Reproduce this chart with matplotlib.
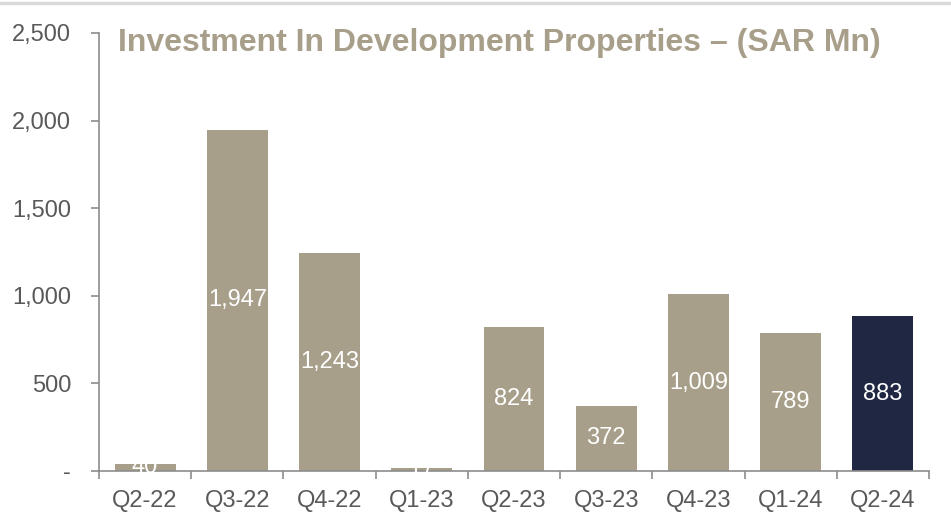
import matplotlib
matplotlib.use("Agg")
import matplotlib.pyplot as plt
from matplotlib.lines import Line2D
import numpy as np

categories = ["Q2-22", "Q3-22", "Q4-22", "Q1-23", "Q2-23", "Q3-23", "Q4-23", "Q1-24", "Q2-24"]
values = [40, 1947, 1243, 17, 824, 372, 1009, 789, 883]
labels = ["40", "1,947", "1,243", "17", "824", "372", "1,009", "789", "883"]
ytick_vals = [0, 500, 1000, 1500, 2000, 2500]
ytick_labels = ["-", "500", "1,000", "1,500", "2,000", "2,500"]
title = "Investment In Development Properties – (SAR Mn)"

plt.rcParams['font.family'] = ['Liberation Sans', 'DejaVu Sans']

tan = "#A89F8A"
navy = "#1F2742"
colors = [tan] * (len(values) - 1) + [navy]

fig = plt.figure(figsize=(9.51, 5.27), dpi=100)
ax = fig.add_axes([99/951, 56/527, 830/951, 438/527])

x = np.arange(len(categories))
bars = ax.bar(x, values, width=0.66, color=colors, zorder=2)
for xi, v, lab in zip(x, values, labels):
    ax.text(xi, v / 2, lab, ha="center", va="center", color="white", fontsize=17, zorder=3)

ax.set_xlim(-0.5, len(categories) - 0.5)
ax.set_ylim(0, 2500)
ax.set_yticks(ytick_vals)
ax.set_yticklabels(ytick_labels, fontsize=17, color="#595959")
ax.set_xticks(x)
ax.set_xticklabels(categories, fontsize=17, color="#595959")
ax.tick_params(axis="x", which="major", length=0, pad=14)
ax.set_xticks(np.arange(-0.5, len(categories)), minor=True)
ax.tick_params(axis="x", which="minor", length=6, color="#8c8c8c", width=1.2, direction="out")
ax.tick_params(axis="y", length=6, color="#8c8c8c", width=1.2, pad=14)

for s in ["top", "right"]:
    ax.spines[s].set_visible(False)
for s in ["left", "bottom"]:
    ax.spines[s].set_color("#8c8c8c")
    ax.spines[s].set_linewidth(1.2)

fig.text(118/951, 1 - 43/527, title, fontsize=23, fontweight="bold", color=tan, va="center", ha="left")

fig.add_artist(Line2D([0, 1], [1 - 3/527, 1 - 3/527], transform=fig.transFigure, color="#d9d9d9", linewidth=2.5))

fig.savefig("out.png", dpi=100)
